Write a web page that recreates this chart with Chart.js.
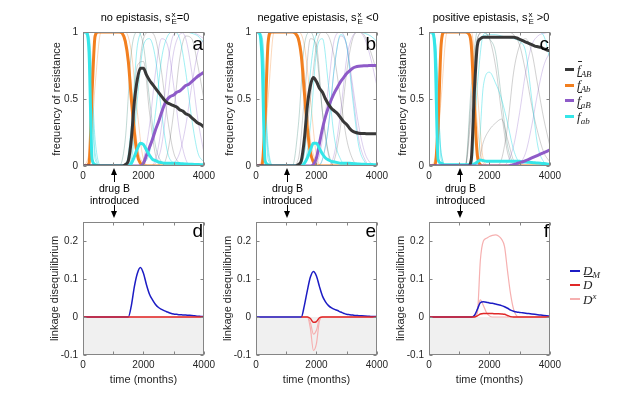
<!DOCTYPE html>
<html>
<head>
<meta charset="utf-8">
<title>epistasis panels</title>
<script src="https://cdn.jsdelivr.net/npm/chart.js@4.4.1/dist/chart.umd.min.js"></script>
<style>
  html, body { margin: 0; padding: 0; background: #fff; }
  body { position: relative; width: 617px; height: 399px; overflow: hidden;
         font-family: "Liberation Sans", Arial, sans-serif; color: #262626; }
  canvas { position: absolute; }
  .txt { position: absolute; white-space: nowrap; line-height: 1; }
  .title { font-size: 11px; transform: translateX(-50%); color: #000; }
  .ss { display: inline-flex; flex-direction: column; font-size: 8px; line-height: 7px;
        vertical-align: 4px; margin-left: 1px; text-align: left; }
  .letter { font-size: 19px; transform: translateX(-100%); color: #000; }
  .drug { font-size: 10.5px; transform: translateX(-50%); color: #000; }
  .shaft { position: absolute; width: 1px; background: #000; }
  .headUp, .headDown { position: absolute; width: 0; height: 0;
        border-left: 3.5px solid transparent; border-right: 3.5px solid transparent; }
  .headUp { border-bottom: 7px solid #000; }
  .headDown { border-top: 7px solid #000; }
  .legLine { position: absolute; }
  .leg { font-family: "Liberation Serif", "DejaVu Serif", serif; font-style: italic; font-size: 13px; color: #262626; }
  .leg sub { font-size: 9px; vertical-align: -3px; }
  .leg sup { font-size: 9px; vertical-align: 5px; }
  .bar { position: relative; }
  .bar::before { content: ''; position: absolute; left: 1px; right: -1px; top: -1px; border-top: 1px solid #262626; }
</style>
</head>
<body>
<script>
'use strict';

// time axis (months)
var months = [0,100,200,300,400,500,600,700,800,900,1000,1100,1200,1300,1400,1500,1600,1700,1800,1900,
              2000,2100,2200,2300,2400,2500,2600,2700,2800,2900,3000,3100,3200,3300,3400,3500,3600,3700,3800,3900,4000];
var monthsCoarse = [0,200,400,600,800,1000,1200,1400,1600,1800,2000,2200,2400,2600,2800,3000,3200,3400,3600,3800,4000];

var xTickMarks = [0, 1000, 2000, 3000, 4000];
var xTickLabels = [0, 2000, 4000];
var freqTicks = [0, 0.5, 1];
var ldTicks = [-0.1, 0, 0.1, 0.2];
var drugBMonth = 1000;

// ---- panel a: no epistasis (mean frequencies, thick lines)
var fAB_a = [0,0,0,0,0,0,0,0,0,0,0,0,0,0, 0.01,0.04,0.2,0.48,0.65,0.73,0.73,0.68,0.64,0.61,0.58,0.55,0.52,0.49,0.47,0.46,0.45,0.44,0.42,0.41,0.39,0.38,0.36,0.34,0.32,0.31,0.29];
var fAb_a = [0,0,0.02,0.55,0.97, 1,1,1,1,1,1,1,1, 0.99,0.93,0.78,0.5,0.25,0.08,0.02, 0,0,0,0,0,0,0,0,0,0,0,0,0,0,0,0,0,0,0,0,0];
var faB_a = [0,0,0,0,0,0,0,0,0,0,0,0,0,0,0,0,0,0,0,0, 0.02,0.08,0.14,0.2,0.27,0.33,0.4,0.46,0.5,0.52,0.53,0.55,0.56,0.58,0.6,0.61,0.63,0.65,0.67,0.685,0.7];
var fab_a = [1,1,0.85,0.05,0.01, 0,0,0,0,0,0,0,0,0,0,0, 0.02,0.07,0.13,0.17,0.16,0.12,0.08,0.05,0.04,0.03, 0.025,0.02,0.02,0.02,0.02,0.02, 0.018,0.016,0.015,0.014,0.013,0.012,0.011,0.01,0.01];
// individual demes (thin lines, coarse grid)
var thinCyan_a = [
  [1,0.95,0.1,0,0,0,0,0,0.3,0.9,1,1,1,1,1,1,1,1,0.99,0.97,0.92],
  [1,0.9,0.05,0,0,0,0,0,0.05,0.5,0.9,0.95,0.8,0.4,0.1,0.02,0,0,0,0,0],
  [1,0.97,0.2,0,0,0,0,0,0,0,0.02,0.1,0.4,0.8,0.97,1,0.95,0.7,0.35,0.1,0.03]
];
var thinPurple_a = [
  [0,0,0,0,0,0,0,0,0,0,0.05,0.3,0.7,0.95,0.9,0.6,0.25,0.05,0,0,0],
  [0,0,0,0,0,0,0,0,0,0,0,0,0.02,0.15,0.5,0.85,0.98,1,1,0.98,0.95],
  [0,0,0,0,0,0,0,0,0,0,0,0,0,0,0,0.02,0.1,0.3,0.6,0.85,0.95],
  [0,0,0,0,0,0,0,0,0,0,0,0,0.05,0.3,0.75,0.98,1,0.95,0.7,0.35,0.1]
];
var thinGray_a = [
  [0,0,0,0,0,0,0,0,0.25,0.75,0.78,0.4,0.08,0,0,0,0,0,0,0,0],
  [0,0,0,0,0,0,0,0,0.1,0.6,0.95,1,0.95,0.7,0.35,0.1,0.02,0,0,0,0],
  [0,0,0,0,0,0,0,0,0,0,0,0,0,0,0.1,0.4,0.8,0.97,0.95,0.75,0.5]
];
var thinTeal_a = [[0,0,0,0,0,0,0,0.2,0.85,1,0.9,0.5,0.15,0.03,0,0,0,0,0,0,0]];
var thinOrange_a = [
  [0,0.1,0.95,1,1,1,1,0.95,0.6,0.15,0.02,0,0,0,0,0,0,0,0,0,0],
  [0,0,0.6,1,1,1,1,1,0.85,0.4,0.05,0,0,0,0,0,0,0,0,0,0]
];

// ---- panel b: negative epistasis
var fAB_b = [0,0,0,0,0,0,0,0,0,0,0,0,0,0, 0.01,0.04,0.2,0.45,0.6,0.66,0.63,0.58,0.55,0.5,0.46,0.43,0.41,0.39,0.36,0.33,0.31,0.28,0.26,0.25,0.245,0.243,0.242,0.241,0.24,0.24,0.24];
var fAb_b = [0,0,0.01,0.35,0.92, 1,1,1,1,1,1,1,1, 0.99,0.95,0.82,0.55,0.28,0.1,0.03, 0,0,0,0,0,0,0,0,0,0,0,0,0,0,0,0,0,0,0,0,0];
var faB_b = [0,0,0,0,0,0,0,0,0,0,0,0,0,0,0,0,0,0,0, 0.01,0.06,0.17,0.28,0.37,0.44,0.5,0.55,0.59,0.63,0.66,0.69,0.71,0.73,0.74,0.745,0.747,0.748,0.749,0.75,0.75,0.75];
var fab_b = [1,1,0.8,0.04,0.01, 0,0,0,0,0,0,0,0,0,0,0, 0.02,0.06,0.12,0.17,0.17,0.13,0.09,0.06,0.045,0.035, 0.03,0.025,0.02,0.02,0.02,0.02, 0.018,0.016,0.015,0.014,0.013,0.012,0.011,0.01,0.01];
var thinCyan_b = [
  [1,0.95,0.1,0,0,0,0,0,0.1,0.7,0.98,1,1,1,1,1,1,1,0.99,0.97,0.93],
  [1,0.9,0.05,0,0,0,0,0,0.02,0.3,0.85,0.95,0.6,0.2,0.05,0,0,0,0,0,0],
  [1,0.97,0.15,0,0,0,0,0,0,0,0,0.05,0.3,0.75,0.98,0.9,0.5,0.15,0.03,0,0]
];
var thinPurple_b = [
  [0,0,0,0,0,0,0,0,0,0,0.02,0.2,0.6,0.95,1,0.9,0.55,0.2,0.05,0,0],
  [0,0,0,0,0,0,0,0,0,0,0,0,0,0.1,0.4,0.8,0.97,1,0.95,0.8,0.6],
  [0,0,0,0,0,0,0,0,0,0,0,0.05,0.3,0.75,0.97,0.9,0.6,0.3,0.1,0.02,0]
];
var thinGray_b = [
  [0,0,0,0,0,0,0,0.05,0.5,0.95,0.9,0.4,0.08,0,0,0,0,0,0,0,0],
  [0,0,0,0,0,0,0,0,0.1,0.5,0.9,1,0.97,0.8,0.5,0.2,0.05,0,0,0,0],
  [0,0,0,0,0,0,0,0,0,0,0,0,0,0.05,0.3,0.7,0.95,1,0.97,0.85,0.7]
];
var thinTeal_b = [[0,0,0,0,0,0,0,0.3,0.9,1,0.85,0.4,0.1,0,0,0,0,0,0,0,0]];
var thinOrange_b = [
  [0,0.05,0.9,1,1,1,1,0.97,0.7,0.2,0.03,0,0,0,0,0,0,0,0,0,0],
  [0,0,0.5,1,1,1,1,1,0.9,0.5,0.08,0,0,0,0,0,0,0,0,0,0]
];

// ---- panel c: positive epistasis
var fAB_c = [0,0,0,0,0,0,0,0,0,0,0,0,0,0, 0.05,0.55,0.9,0.95, 0.96,0.96,0.96,0.96,0.96,0.96,0.96,0.96,0.96,0.96,0.96, 0.955,0.945,0.935,0.925,0.915,0.905,0.895,0.89,0.885,0.875,0.865,0.86];
var fAb_c = [0,0,0.01,0.3,0.9, 1,1,1,1,1,1,1,1, 0.99,0.9,0.45,0.08,0.01, 0,0,0,0,0,0,0,0,0,0,0,0,0,0,0,0,0,0,0,0,0,0,0];
var faB_c = [0,0,0,0,0,0,0,0,0,0,0,0,0,0,0,0,0,0,0,0,0,0,0,0,0,0,0, 0.005,0.01,0.018,0.025,0.032,0.04,0.05,0.06,0.07,0.08,0.09,0.1,0.11,0.12];
var fab_c = [1,1,0.85,0.05,0.02, 0.01,0.01,0.01,0.01,0.01,0.01,0.01,0.01,0.01,0.01, 0.015,0.03,0.045,0.04, 0.035,0.035,0.035,0.035,0.035,0.035,0.035,0.035,0.035,0.035,0.035,0.035, 0.03,0.03,0.028,0.026,0.024,0.022,0.02,0.018,0.015,0.012];
var thinCyan_c = [
  [1,0.95,0.1,0,0,0,0,0,0.9,0.97,0.98,0.98,0.97,0.96,0.95,0.93,0.85,0.5,0.15,0.03,0],
  [1,0.95,0.1,0,0,0,0,0,0.6,0.98,1,1,1,1,1,1,1,1,1,0.97,0.8],
  [1,0.9,0.05,0,0,0,0,0,0,0.6,0.7,0.62,0.5,0.32,0.12,0.02,0,0,0,0,0]
];
var thinPurple_c = [
  [0,0,0,0,0,0,0,0,0,0,0,0,0,0.03,0.15,0.4,0.7,0.9,0.97,0.99,1],
  [0,0,0,0,0,0,0,0,0,0,0,0,0,0,0,0.02,0.1,0.3,0.55,0.75,0.85]
];
var thinGray_c = [
  [0,0,0,0,0,0,0,0,0,0.18,0.27,0.32,0.35,0.2,0.04,0,0,0,0,0,0],
  [0,0,0,0,0,0,0,0.5,0.95,1,0.95,0.75,0.4,0.1,0.01,0,0,0,0,0,0],
  [0,0,0,0,0,0,0,0.4,0.95,1,1,1,1,1,0.98,0.9,0.7,0.45,0.25,0.1,0.03],
  [0,0,0,0,0,0,0,0,0,0,0,0,0.05,0.3,0.7,0.9,0.95,0.85,0.6,0.35,0.15]
];
var thinTeal_c = [[0,0,0,0,0,0,0,0.6,1,1,0.95,0.85,0.5,0.15,0.02,0,0,0,0,0,0]];
var thinOrange_c = [
  [0,0.05,0.9,1,1,1,1,0.97,0.3,0.02,0,0,0,0,0,0,0,0,0,0,0],
  [0,0,0.5,1,1,1,1,1,0.55,0.05,0,0,0,0,0,0,0,0,0,0,0]
];

// ---- linkage disequilibrium, panels d, e, f
var DM_d = [0,0,0,0,0,0,0,0,0,0,0,0,0,0,0,0, 0.03,0.08,0.115,0.13,0.115,0.085,0.06,0.045,0.033,0.025, 0.02,0.016,0.013,0.01,0.008,0.007,0.006,0.0055,0.005,0.0045, 0.004,0.003,0.002,0.0015,0.001];
var Dbar_d = [0,0,0,0,0,0,0,0,0,0,0,0,0,0,0,0,0,0,0,0,0];
var Dx_d = [0,0,0,0,0,0,0,0,0,0,0,0,0,0,0,0,0,0,0,0,0];

var DM_e = [0,0,0,0,0,0,0,0,0,0,0,0,0,0,0,0, 0.03,0.07,0.105,0.12,0.108,0.08,0.055,0.04,0.03,0.024, 0.02,0.017,0.013,0.01,0.007,0.006,0.005,0.004,0.0035,0.003, 0.0025,0.002,0.0015,0.001,0.001];
var Dbar_e = [null,null,null,null,null,null,null,null,null,null,null,null,null,null,null, 0,0,0,-0.004,-0.014,-0.012,-0.002, 0,0,0,0,0,0,0,0,0,0,0,0,0,0,0,0,0,0,0];
var Dx_e = [
  [0,0,0,0,0,0,0,0,0,0,0,0,0,0,0,0,0, 0,-0.03,-0.088,-0.07,-0.01, 0,0,0,0,0,0,0,0,0,0,0,0,0,0,0,0,0,0,0],
  [0,0,0,0,0,0,0,0,0,0,0,0,0,0,0,0,0,0, -0.015,-0.045,-0.035,-0.005, 0,0,0,0,0,0,0,0,0,0,0,0,0,0,0,0,0,0,0]
];

var DM_f = [0,0,0,0,0,0,0,0,0,0,0,0,0,0, 0, 0.004,0.02,0.038,0.04,0.039,0.037,0.036,0.034,0.032,0.03,0.027,0.023,0.018,0.015,0.013,0.012,0.011,0.01,0.009,0.008,0.007,0.006,0.005,0.004,0.003,0.002];
var Dbar_f = [0,0,0,0,0,0,0,0,0,0,0,0,0,0,0, 0, 0.003,0.008,0.009,0.009,0.009,0.009,0.0085,0.0085,0.008,0.007,0.004,0.001, 0,0,0,0,0,0,0,0,0,0,0,0,0];
var Dx_f = [
  [0,0,0,0,0,0,0,0,0,0,0,0,0,0,0, 0, 0.01,0.15,0.2,0.207,0.212,0.215,0.216,0.213,0.205,0.185,0.12,0.06,0.02,0.003, 0,0,0,0,0,0,0,0,0,0,0],
  [0,0,0,0,0,0,0,0,0,0,0,0,0,0,0,0, 0.02,0.045,0.03,0.012,0.003, 0,0,0,0,0,0,0,0,0,0,0,0,0,0,0,0,0,0,0,0]
];
var shadeMonths = [0, 4000];
var shadeLevel = [0, 0];

// ---- layout
var panelLeft = [83, 256, 429];
var plotW = 124;
var topRow = { top: 29, h: 137, below: 22 };
var botRow = { top: 219, h: 136, below: 36 };
var padL = 60, padT = 8, padR = 12;

var thickColor = { AB: '#383838', Ab: '#f27f1f', aB: '#8e5bc8', ab: '#35e6e8' };
var thinColor = {
  cyan: 'rgba(45,220,228,0.45)', purple: 'rgba(140,95,200,0.3)', gray: 'rgba(70,70,70,0.25)',
  teal: 'rgba(50,130,115,0.3)', orange: 'rgba(242,127,31,0.3)'
};
var ldColor = { DM: '#1c1cc4', Dbar: '#e02828', Dx: '#f6b0b0' };

// MATLAB style box with inward ticks
var axesBox = {
  id: 'axesBox',
  afterDraw: function(chart) {
    var a = chart.chartArea, ctx = chart.ctx;
    var xs = chart.scales.x, ys = chart.scales.y;
    var l = Math.round(a.left) + 0.5, r = Math.round(a.right) - 0.5;
    var t = Math.round(a.top) + 0.5, b = Math.round(a.bottom) - 0.5;
    ctx.save();
    ctx.strokeStyle = '#858585';
    ctx.lineWidth = 1;
    ctx.strokeRect(l, t, r - l, b - t);
    ctx.beginPath();
    xs.ticks.forEach(function(tk) {
      var px = Math.round(xs.getPixelForValue(tk.value)) + 0.5;
      ctx.moveTo(px, b); ctx.lineTo(px, b - 3);
      ctx.moveTo(px, t); ctx.lineTo(px, t + 3);
    });
    ys.ticks.forEach(function(tk) {
      var py = Math.round(ys.getPixelForValue(tk.value)) + 0.5;
      ctx.moveTo(l, py); ctx.lineTo(l + 3, py);
      ctx.moveTo(r, py); ctx.lineTo(r - 3, py);
    });
    ctx.stroke();
    ctx.restore();
  }
};

function series(xs, ys, color, width) {
  return {
    data: ys.map(function(y, i) { return { x: xs[i], y: y }; }),
    borderColor: color,
    borderWidth: width,
    pointRadius: 0,
    fill: false,
    cubicInterpolationMode: 'monotone'
  };
}

function makeCanvas(col, row) {
  var c = document.createElement('canvas');
  c.width = padL + plotW + padR;
  c.height = padT + row.h + row.below;
  c.style.left = (panelLeft[col] - padL) + 'px';
  c.style.top = (row.top - padT) + 'px';
  document.body.appendChild(c);
  return c;
}

function options(row, yMin, yMax, yTickList, yTitle, yTitlePad, xTitle) {
  var tickFont = { family: '"Liberation Sans", Arial, sans-serif', size: 10 };
  var titleFont = { family: '"Liberation Sans", Arial, sans-serif', size: 11 };
  return {
    responsive: false,
    animation: false,
    events: [],
    layout: { padding: { top: padT, right: padR, left: 0, bottom: 0 } },
    plugins: { legend: { display: false }, tooltip: { enabled: false } },
    scales: {
      x: {
        type: 'linear', min: 0, max: 4000,
        grid: { display: false, drawTicks: false },
        border: { display: false },
        afterBuildTicks: function(s) { s.ticks = xTickMarks.map(function(v) { return { value: v }; }); },
        ticks: {
          autoSkip: false, maxRotation: 0, padding: 4, color: '#262626', font: tickFont,
          callback: function(v) { return xTickLabels.indexOf(v) >= 0 ? String(v) : ''; }
        },
        title: { display: !!xTitle, text: xTitle || '', color: '#262626', font: titleFont, padding: { top: 0, bottom: 4 } },
        afterFit: function(s) { s.height = row.below; }
      },
      y: {
        type: 'linear', min: yMin, max: yMax,
        grid: { display: false, drawTicks: false },
        border: { display: false },
        afterBuildTicks: function(s) { s.ticks = yTickList.map(function(v) { return { value: v }; }); },
        ticks: { padding: 5, color: '#262626', font: tickFont, callback: function(v) { return String(v); } },
        title: { display: true, text: yTitle, color: '#262626', font: titleFont, padding: { top: yTitlePad, bottom: 0 } },
        afterFit: function(s) { s.width = padL; }
      }
    }
  };
}

function freqChart(col, thick, thin) {
  var ds = thick.map(function(t) { return series(months, t[1], thickColor[t[0]], 3); });
  Object.keys(thin).forEach(function(k) {
    thin[k].forEach(function(v) { ds.push(series(monthsCoarse, v, thinColor[k], 1)); });
  });
  new Chart(makeCanvas(col, topRow), {
    type: 'line',
    data: { datasets: ds },
    options: options(topRow, 0, 1, freqTicks, 'frequency of resistance', 27, null),
    plugins: [axesBox]
  });
}

function ldChart(col, lines) {
  var ds = lines.map(function(l) { return series(l[0], l[1], ldColor[l[2]], l[2] === 'Dx' ? 1.2 : 1.5); });
  var shade = series(shadeMonths, shadeLevel, 'rgba(0,0,0,0)', 0);
  shade.fill = 'start';
  shade.backgroundColor = '#f0f0f0';
  ds.push(shade);
  new Chart(makeCanvas(col, botRow), {
    type: 'line',
    data: { datasets: ds },
    options: options(botRow, -0.1, 0.25, ldTicks, 'linkage disequilibrium', 25, 'time (months)'),
    plugins: [axesBox]
  });
}

freqChart(0, [['AB', fAB_a], ['ab', fab_a], ['aB', faB_a], ['Ab', fAb_a]],
  { cyan: thinCyan_a, purple: thinPurple_a, gray: thinGray_a, teal: thinTeal_a, orange: thinOrange_a });
freqChart(1, [['AB', fAB_b], ['ab', fab_b], ['aB', faB_b], ['Ab', fAb_b]],
  { cyan: thinCyan_b, purple: thinPurple_b, gray: thinGray_b, teal: thinTeal_b, orange: thinOrange_b });
freqChart(2, [['aB', faB_c], ['AB', fAB_c], ['ab', fab_c], ['Ab', fAb_c]],
  { cyan: thinCyan_c, purple: thinPurple_c, gray: thinGray_c, teal: thinTeal_c, orange: thinOrange_c });

ldChart(0, [[monthsCoarse, Dbar_d, 'Dbar'], [months, DM_d, 'DM'], [monthsCoarse, Dx_d, 'Dx']]);
ldChart(1, [[months, Dbar_e, 'Dbar'], [months, DM_e, 'DM'], [months, Dx_e[0], 'Dx'], [months, Dx_e[1], 'Dx']]);
ldChart(2, [[months, Dbar_f, 'Dbar'], [months, DM_f, 'DM'], [months, Dx_f[0], 'Dx'], [months, Dx_f[1], 'Dx']]);

// ---- text, arrows, legends
function addText(html, cls, x, y) {
  var d = document.createElement('div');
  d.className = 'txt ' + cls;
  d.innerHTML = html;
  d.style.left = x + 'px';
  d.style.top = y + 'px';
  document.body.appendChild(d);
  return d;
}
function addBox(cls, x, y, w, h, color) {
  var d = document.createElement('div');
  d.className = cls;
  d.style.left = x + 'px';
  d.style.top = y + 'px';
  if (w != null) d.style.width = w + 'px';
  if (h != null) d.style.height = h + 'px';
  if (color) d.style.background = color;
  document.body.appendChild(d);
}

var sxE = 's<span class="ss"><span>x</span><span>E</span></span>';
var panelTitles = ['no epistasis, ' + sxE + '=0', 'negative epistasis, ' + sxE + ' &lt;0', 'positive epistasis, ' + sxE + ' &gt;0'];
var topLetters = ['a', 'b', 'c'];
var botLetters = ['d', 'e', 'f'];

panelLeft.forEach(function(x0, i) {
  addText(panelTitles[i], 'title', x0 + plotW / 2, 11);
  addText(topLetters[i], 'letter', x0 + plotW - 4, 34);
  addText(botLetters[i], 'letter', x0 + plotW - 4, 221);
  var ax = Math.round(x0 + plotW * drugBMonth / 4000);
  addBox('headUp', ax - 3.5, 168);
  addBox('shaft', ax, 175, 1, 7);
  addText('drug B', 'drug', ax + 0.5, 182.5);
  addText('introduced', 'drug', ax + 0.5, 194.5);
  addBox('shaft', ax, 205, 1, 7);
  addBox('headDown', ax - 3.5, 211);
});

var freqLegend = [
  ['AB', '<span class="bar">f</span><sub>AB</sub>'],
  ['Ab', '<span class="bar">f</span><sub>Ab</sub>'],
  ['aB', '<span class="bar">f</span><sub>aB</sub>'],
  ['ab', '<span class="bar">f</span><sub>ab</sub>']
];
freqLegend.forEach(function(e, i) {
  var y = 69.5 + i * 15.7;
  addBox('legLine', 565, y - 1.5, 9, 3, thickColor[e[0]]);
  addText(e[1], 'leg', 577, y - 7);
});
var ldLegend = [
  ['DM', 'D<sub>M</sub>'],
  ['Dbar', '<span class="bar">D</span>'],
  ['Dx', 'D<sup>x</sup>']
];
ldLegend.forEach(function(e, i) {
  var y = 271 + i * 14;
  addBox('legLine', 570, y - 1, 10, e[0] === 'Dx' ? 1.5 : 2, ldColor[e[0]]);
  addText(e[1], 'leg', 583, y - 7);
});
</script>
</body>
</html>
